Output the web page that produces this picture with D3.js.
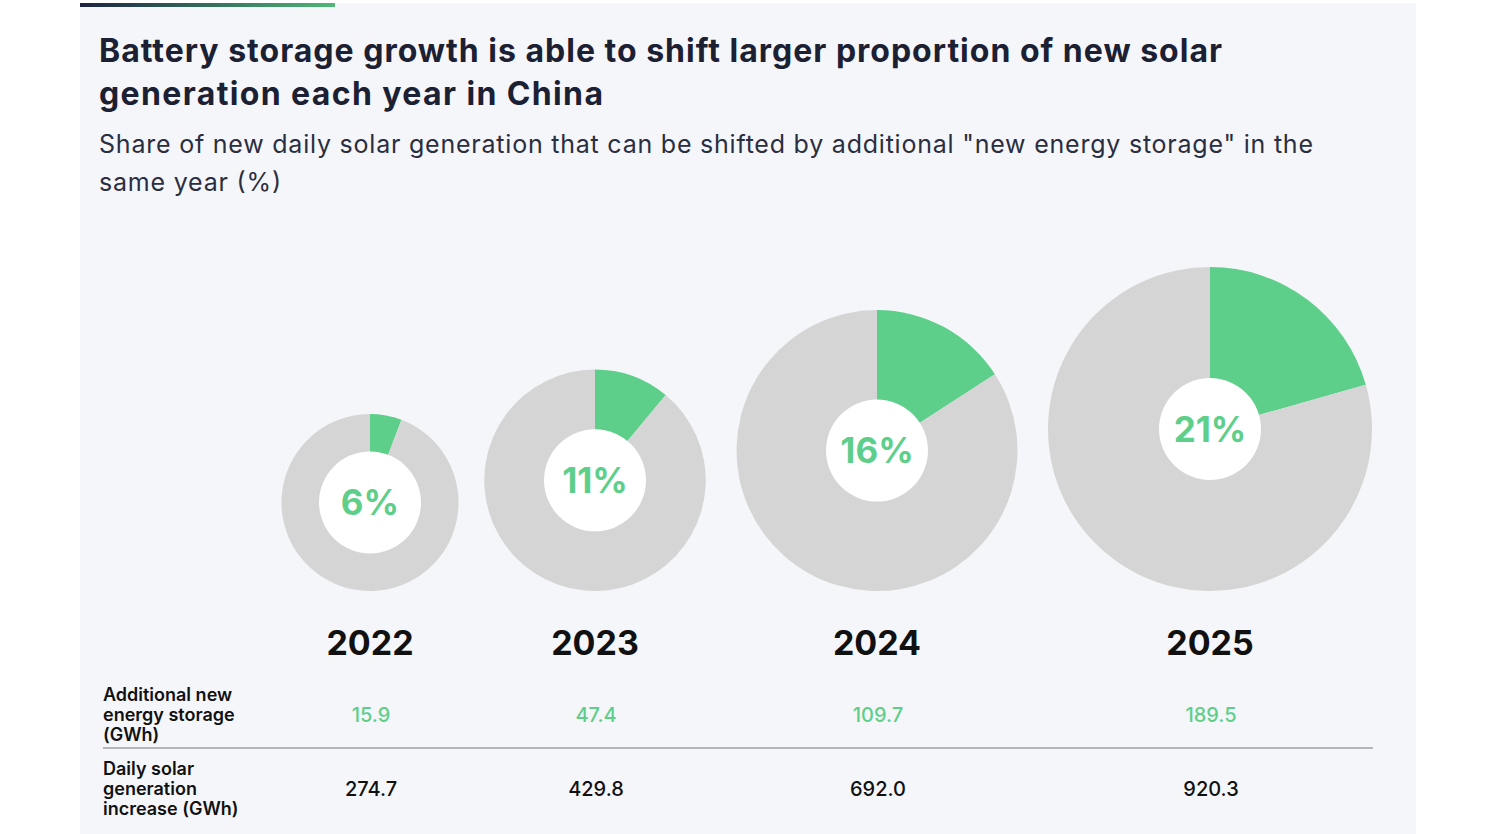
<!DOCTYPE html>
<html><head><meta charset="utf-8">
<script src="https://cdn.jsdelivr.net/npm/d3@7"></script>
<style>body{margin:0;background:#fff;font-family:Inter,"Noto Sans",sans-serif}</style>
</head><body><svg id="c" width="1500" height="834"></svg>
<script>
const years = ["2022","2023","2024","2025"];
const storage = [15.9, 47.4, 109.7, 189.5];
const solar = [274.7, 429.8, 692.0, 920.3];
const shareLabels = ["6%","11%","16%","21%"];
const colX = [370, 595, 877, 1210];

const svg = d3.select("#c");
const green = "#5ecf8b", gray = "#d5d5d5";
svg.append("rect").attr("x",80).attr("y",3).attr("width",1336).attr("height",831).attr("fill","#f5f6fa");
const g = svg.append("defs").append("linearGradient").attr("id","gr");
g.append("stop").attr("offset","0").attr("stop-color","#1c2340");
g.append("stop").attr("offset","1").attr("stop-color","#4fb878");
svg.append("rect").attr("x",80).attr("y",3).attr("width",255).attr("height",4).attr("fill","url(#gr)");

function multi(lines, ys, lens, size, weight, fill){
  const t = svg.append("text").attr("font-weight",weight).attr("font-size",size).attr("fill",fill);
  lines.forEach((l,k)=>t.append("tspan").attr("x",99).attr("y",ys[k]).attr("textLength",lens[k])
    .attr("lengthAdjust","spacing").text(l));
}
multi(["Battery storage growth is able to shift larger proportion of new solar","generation each year in China"],
  [62,105],[1123,504],32,700,"#1c2033");
multi(["Share of new daily solar generation that can be shifted by additional \"new energy storage\" in the","same year (%)"],
  [153,191],[1214,182],25,400,"#2a2e40");

const r = d3.scaleSqrt().domain([0, d3.max(solar)]).range([0, 162]);
const x = d3.scaleOrdinal().domain(years).range(colX);
const bottom = 591;
const pie = d3.pie().sort(null).value(d=>d);
years.forEach((y,i)=>{
  const R = r(solar[i]);
  const cy = bottom - R, cx = x(y);
  const gg = svg.append("g").attr("transform",`translate(${cx},${cy})`);
  const arc = d3.arc().innerRadius(0).outerRadius(R);
  gg.selectAll("path").data(pie([storage[i], solar[i]-storage[i]])).join("path")
    .attr("d",arc).attr("fill",(d,j)=>j?gray:green);
  gg.append("circle").attr("r",51).attr("fill","#fff");
  gg.append("text").attr("text-anchor","middle").attr("dy","0.36em").attr("font-size",35)
    .attr("font-weight",700).attr("fill",green).text(shareLabels[i]);
  svg.append("text").attr("x",cx).attr("y",655).attr("text-anchor","middle").attr("font-size",34)
    .attr("font-weight",700).attr("fill","#111").text(y);
  svg.append("text").attr("x",cx+1).attr("y",722).attr("text-anchor","middle").attr("font-size",20)
    .attr("font-weight",500).attr("fill",green).text(storage[i].toFixed(1));
  svg.append("text").attr("x",cx+1).attr("y",796).attr("text-anchor","middle").attr("font-size",20)
    .attr("font-weight",500).attr("fill","#111").text(solar[i].toFixed(1));
});
function lab(lines, y0){
  const tt = svg.append("text").attr("font-size",18).attr("font-weight",600).attr("fill","#111");
  lines.forEach((l,k)=>tt.append("tspan").attr("x",103).attr("y",y0+k*20).text(l));
}
lab(["Additional new","energy storage","(GWh)"],701);
lab(["Daily solar","generation","increase (GWh)"],775);
svg.append("line").attr("x1",103).attr("x2",1373).attr("y1",748).attr("y2",748).attr("stroke","#777").attr("stroke-width",1.2);
</script></body></html>
